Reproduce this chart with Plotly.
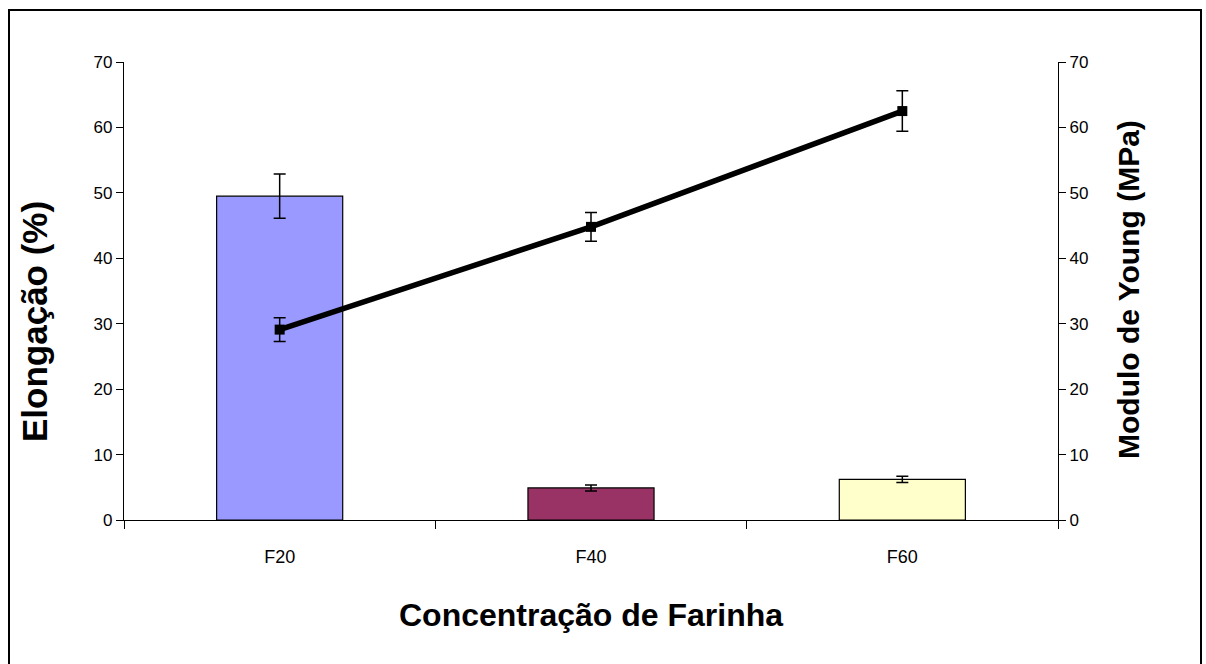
import plotly.graph_objects as go

# Flour concentration samples
categorias = ["F20", "F40", "F60"]

# Elongation (%) with standard deviation
elongacao = [49.5, 4.9, 6.2]
elongacao_erro = [3.4, 0.45, 0.48]

# Young's modulus (MPa) with standard deviation
modulo_young = [29.1, 44.8, 62.5]
modulo_erro = [1.8, 2.2, 3.1]

cores_barras = ["#9999FF", "#993366", "#FFFFCC"]
eixo_ticks = [0, 10, 20, 30, 40, 50, 60, 70]

FONT = "Liberation Sans, Arial, sans-serif"

fig = go.Figure()

fig.add_trace(go.Bar(
    x=categorias,
    y=elongacao,
    marker=dict(color=cores_barras, line=dict(color="black", width=1.2)),
    error_y=dict(type="data", array=elongacao_erro, visible=True,
                 color="black", thickness=1.5, width=6),
    yaxis="y",
    showlegend=False,
))

fig.add_trace(go.Scatter(
    x=categorias,
    y=modulo_young,
    mode="lines+markers",
    line=dict(color="black", width=5.5),
    marker=dict(symbol="square", size=10, color="black"),
    error_y=dict(type="data", array=modulo_erro, visible=True,
                 color="black", thickness=1.5, width=6),
    yaxis="y2",
    showlegend=False,
))

axis_common = dict(
    range=[0, 70],
    tickvals=eixo_ticks,
    ticks="outside",
    ticklen=7,
    tickcolor="black",
    showline=True,
    linecolor="black",
    linewidth=1.2,
    showgrid=False,
    zeroline=False,
    tickfont=dict(family=FONT, size=17, color="black"),
)

fig.update_layout(
    width=1206,
    height=664,
    margin=dict(l=124, r=148, t=62, b=144),
    paper_bgcolor="white",
    plot_bgcolor="white",
    bargap=0.595,
    xaxis=dict(
        type="category",
        tickson="boundaries",
        ticks="outside",
        ticklen=8,
        tickcolor="black",
        showline=True,
        linecolor="black",
        linewidth=1.2,
        showgrid=False,
        ticklabelstandoff=20,
        tickfont=dict(family=FONT, size=18, color="black"),
    ),
    yaxis=dict(**axis_common),
    yaxis2=dict(overlaying="y", side="right", **axis_common),
    annotations=[
        dict(text="<b>Concentração de Farinha</b>", xref="paper", yref="paper",
             x=0.5, y=(520 - 615) / 458, xanchor="center", yanchor="middle",
             showarrow=False, font=dict(family=FONT, size=32, color="black")),
        dict(text="<b>Elongação (%)</b>", xref="paper", yref="paper",
             x=(34 - 124) / 934, y=(520 - 322) / 458, xanchor="center", yanchor="middle",
             textangle=-90, showarrow=False,
             font=dict(family=FONT, size=35, color="black")),
        dict(text="<b>Modulo de Young (MPa)</b>", xref="paper", yref="paper",
             x=(1128 - 124) / 934, y=(520 - 290) / 458, xanchor="center", yanchor="middle",
             textangle=-90, showarrow=False,
             font=dict(family=FONT, size=30, color="black")),
    ],
    shapes=[
        # outer chart frame (open at the bottom edge of the page)
        dict(type="path", xref="paper", yref="paper",
             path="M {l},{b} L {l},{t} L {r},{t} L {r},{b}".format(
                 l=(9 - 124) / 934, r=(1201 - 124) / 934,
                 t=(520 - 10) / 458, b=(520 - 700) / 458),
             line=dict(color="black", width=2)),
    ],
)

fig.write_html("out.html")
